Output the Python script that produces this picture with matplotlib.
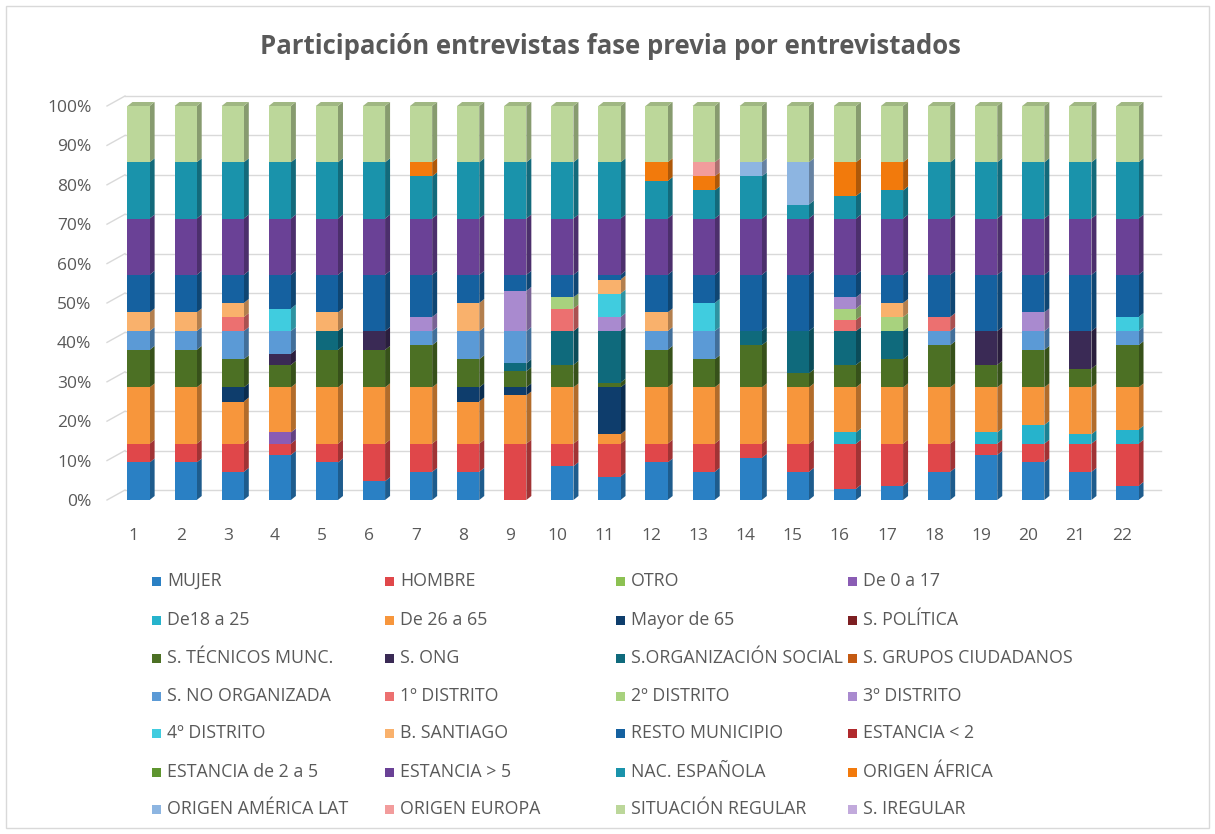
import numpy as np
import matplotlib.pyplot as plt
import matplotlib.colors as mcolors
from matplotlib.patches import Polygon, Rectangle
from matplotlib.transforms import ScaledTranslation

plt.rcParams['font.family'] = ['Open Sans', 'DejaVu Sans']

# interviewees on the x axis
interviews = [str(i) for i in range(1, 23)]

# participants per group in each interview (every group adds up to the same total)
mujer        = [2, 2, 2, 4, 2, 1, 2, 2, 0, 3, 5, 2, 2, 3, 2, 1, 1, 2, 4, 2, 3, 1]
hombre       = [1, 1, 2, 1, 1, 2, 2, 2, 7, 2, 7, 1, 2, 1, 2, 4, 3, 2, 1, 1, 3, 3]
otro         = [0] * 22
de0_17       = [0, 0, 0, 1, 0, 0, 0, 0, 0, 0, 0, 0, 0, 0, 0, 0, 0, 0, 0, 0, 0, 0]
de18_25      = [0, 0, 0, 0, 0, 0, 0, 0, 0, 0, 0, 0, 0, 0, 0, 1, 0, 0, 1, 1, 1, 1]
de26_65      = [3, 3, 3, 4, 3, 3, 4, 3, 6, 5, 2, 3, 4, 4, 4, 4, 4, 4, 4, 2, 5, 3]
mayor65      = [0, 0, 1, 0, 0, 0, 0, 1, 1, 0, 10, 0, 0, 0, 0, 0, 0, 0, 0, 0, 0, 0]
s_politica   = [0] * 22
s_tecnicos   = [2, 2, 2, 2, 2, 2, 3, 2, 2, 2, 1, 2, 2, 3, 1, 2, 2, 3, 2, 2, 2, 3]
s_ong        = [0, 0, 0, 1, 0, 1, 0, 0, 0, 0, 0, 0, 0, 0, 0, 0, 0, 0, 3, 0, 4, 0]
s_org_social = [0, 0, 0, 0, 1, 0, 0, 0, 1, 3, 11, 0, 0, 1, 3, 3, 2, 0, 0, 0, 0, 0]
s_grupos     = [0] * 22
s_no_org     = [1, 1, 2, 2, 0, 0, 1, 2, 4, 0, 0, 1, 2, 0, 0, 0, 0, 1, 0, 1, 0, 1]
distrito1    = [0, 0, 1, 0, 0, 0, 0, 0, 0, 2, 0, 0, 0, 0, 0, 1, 0, 1, 0, 0, 0, 0]
distrito2    = [0, 0, 0, 0, 0, 0, 0, 0, 0, 1, 0, 0, 0, 0, 0, 1, 1, 0, 0, 0, 0, 0]
distrito3    = [0, 0, 0, 0, 0, 0, 1, 0, 5, 0, 3, 0, 0, 0, 0, 1, 0, 0, 0, 1, 0, 0]
distrito4    = [0, 0, 0, 2, 0, 0, 0, 0, 0, 0, 5, 0, 2, 0, 0, 0, 0, 0, 0, 0, 0, 1]
b_santiago   = [1, 1, 1, 0, 1, 0, 0, 2, 0, 0, 3, 1, 0, 0, 0, 0, 1, 0, 0, 0, 0, 0]
resto_mun    = [2, 2, 2, 3, 2, 3, 3, 2, 2, 2, 1, 2, 2, 4, 4, 2, 2, 3, 5, 2, 6, 3]
estancia_lt2 = [0] * 22
estancia_2_5 = [0] * 22
estancia_gt5 = [3, 3, 4, 5, 3, 3, 4, 4, 7, 5, 12, 3, 4, 4, 4, 5, 4, 4, 5, 3, 6, 4]
nac_espanola = [3, 3, 4, 5, 3, 3, 3, 4, 7, 5, 12, 2, 2, 3, 1, 2, 2, 4, 5, 3, 6, 4]
origen_africa = [0, 0, 0, 0, 0, 0, 1, 0, 0, 0, 0, 1, 1, 0, 0, 3, 2, 0, 0, 0, 0, 0]
origen_america = [0, 0, 0, 0, 0, 0, 0, 0, 0, 0, 0, 0, 0, 1, 3, 0, 0, 0, 0, 0, 0, 0]
origen_europa = [0, 0, 0, 0, 0, 0, 0, 0, 0, 0, 0, 0, 1, 0, 0, 0, 0, 0, 0, 0, 0, 0]
sit_regular  = [3, 3, 4, 5, 3, 3, 4, 4, 7, 5, 12, 3, 4, 4, 4, 5, 4, 4, 5, 3, 6, 4]
s_irregular  = [0] * 22

series_names = [
    "MUJER", "HOMBRE", "OTRO", "De 0 a 17",
    "De18 a 25", "De 26 a 65", "Mayor de 65", "S. POLÍTICA",
    "S. TÉCNICOS MUNC.", "S. ONG", "S.ORGANIZACIÓN SOCIAL", "S. GRUPOS CIUDADANOS",
    "S. NO ORGANIZADA", "1º DISTRITO", "2º DISTRITO", "3º DISTRITO",
    "4º DISTRITO", "B. SANTIAGO", "RESTO MUNICIPIO", "ESTANCIA < 2",
    "ESTANCIA de 2 a 5", "ESTANCIA > 5", "NAC. ESPAÑOLA", "ORIGEN ÁFRICA",
    "ORIGEN AMÉRICA LAT", "ORIGEN EUROPA", "SITUACIÓN REGULAR", "S. IREGULAR",
]
series_values = [
    mujer, hombre, otro, de0_17, de18_25, de26_65, mayor65, s_politica,
    s_tecnicos, s_ong, s_org_social, s_grupos, s_no_org, distrito1,
    distrito2, distrito3, distrito4, b_santiago, resto_mun, estancia_lt2,
    estancia_2_5, estancia_gt5, nac_espanola, origen_africa, origen_america,
    origen_europa, sit_regular, s_irregular,
]
series_colors = [
    "#2A80C4", "#E0474A", "#8CC152", "#8A5CB4",
    "#26B3CC", "#F7963C", "#0E3D6C", "#7D1F22",
    "#4C7024", "#3A2A55", "#0F6A7C", "#C45A12",
    "#5B9AD6", "#EC7070", "#A8D27E", "#A98ACF",
    "#40CCDF", "#F9B16C", "#1561A0", "#B0292C",
    "#5E952F", "#6A4196", "#1A93AB", "#F27A0C",
    "#8DB5E1", "#F29C9C", "#BCD79A", "#C2AADC",
]

W, H = 1215, 834
fig = plt.figure(figsize=(W / 100, H / 100), dpi=100)
fig.patch.set_facecolor("white")
fig.add_artist(Rectangle((6 / W, 6 / H), 1203 / W, 822 / H, transform=fig.transFigure,
                         fill=False, edgecolor="#D9D9D9", linewidth=1))

ax = fig.add_axes([115 / W, 334 / H, 1036 / W, 394 / H])
ax.set_xlim(0.5, 22.5)
ax.set_ylim(0, 100)
ax.set_facecolor("none")
for sp in ax.spines.values():
    sp.set_visible(False)

# pixel -> data conversion for the 3D depth
ux = 22.0 / 1036
uy = 100.0 / 394
depth_dx, depth_dy = 5 * ux, 4 * uy
wall_dx, wall_dy = 10 * ux, 10 * uy

# back wall gridlines with the small side-wall strokes
for g in range(0, 101, 10):
    ax.plot([0.5 - 8 * ux, 0.5 + wall_dx], [g, g + wall_dy], color="#D9D9D9", lw=1,
            clip_on=False, zorder=0)
    ax.plot([0.5 + wall_dx, 22.5 + 10 * ux], [g + wall_dy, g + wall_dy], color="#D9D9D9",
            lw=1, clip_on=False, zorder=0)

x = np.arange(1, 23)
values = np.array(series_values, dtype=float)
totals = values.sum(axis=0)
pct = values / totals * 100

bar_w = 0.47


def shade(c, f):
    r, g, b = mcolors.to_rgb(c)
    return (r * f, g * f, b * f)


bottom = np.zeros(22)
for name, vals, col in zip(series_names, pct, series_colors):
    ax.bar(x, vals, bottom=bottom, width=bar_w, color=col, linewidth=0, zorder=2)
    for xi, b, h in zip(x, bottom, vals):
        if h <= 0:
            continue
        xr = xi + bar_w / 2
        side = Polygon([(xr, b), (xr + depth_dx, b + depth_dy),
                        (xr + depth_dx, b + h + depth_dy), (xr, b + h)],
                       closed=True, facecolor=shade(col, 0.72), edgecolor="none",
                       zorder=1.9, clip_on=False)
        ax.add_patch(side)
    bottom = bottom + vals

# top faces take the colour of the last segment
top_col = series_colors[26]
for xi in x:
    xl, xr = xi - bar_w / 2, xi + bar_w / 2
    top = Polygon([(xl, 100), (xl + depth_dx, 100 + depth_dy),
                   (xr + depth_dx, 100 + depth_dy), (xr, 100)],
                  closed=True, facecolor=shade(top_col, 0.85), edgecolor="none",
                  zorder=2.1, clip_on=False)
    ax.add_patch(top)

ax.set_yticks(range(0, 101, 10))
ax.set_yticklabels([f"{v}%" for v in range(0, 101, 10)])
ax.set_xticks(x)
ax.set_xticklabels(interviews)
ax.tick_params(axis="both", length=0, labelsize=12.5, labelcolor="#595959")
ax.tick_params(axis="y", pad=17)
ax.tick_params(axis="x", pad=20)
for lab in ax.get_xticklabels():
    lab.set_transform(lab.get_transform() + ScaledTranslation(-0.05, 0, fig.dpi_scale_trans))

fig.text(610 / W, 1 - 46 / H, "Participación entrevistas fase previa por entrevistados",
         ha="center", va="center", fontsize=18.5, fontweight="bold", color="#595959")

# legend: 4 columns, filled row by row
col_x = [152, 385, 616, 848]
row_y = [581, 620, 658, 696, 733, 772, 809]
for k, (name, col) in enumerate(zip(series_names, series_colors)):
    r, c = divmod(k, 4)
    px, py = col_x[c], row_y[r]
    fig.add_artist(Rectangle((px / W, 1 - (py + 4.5) / H), 9 / W, 9 / H,
                             transform=fig.transFigure, facecolor=col, edgecolor="none"))
    fig.text((px + 15) / W, 1 - py / H, name, ha="left", va="center",
             fontsize=12.8, color="#595959")

fig.savefig("out.png", dpi=100)
